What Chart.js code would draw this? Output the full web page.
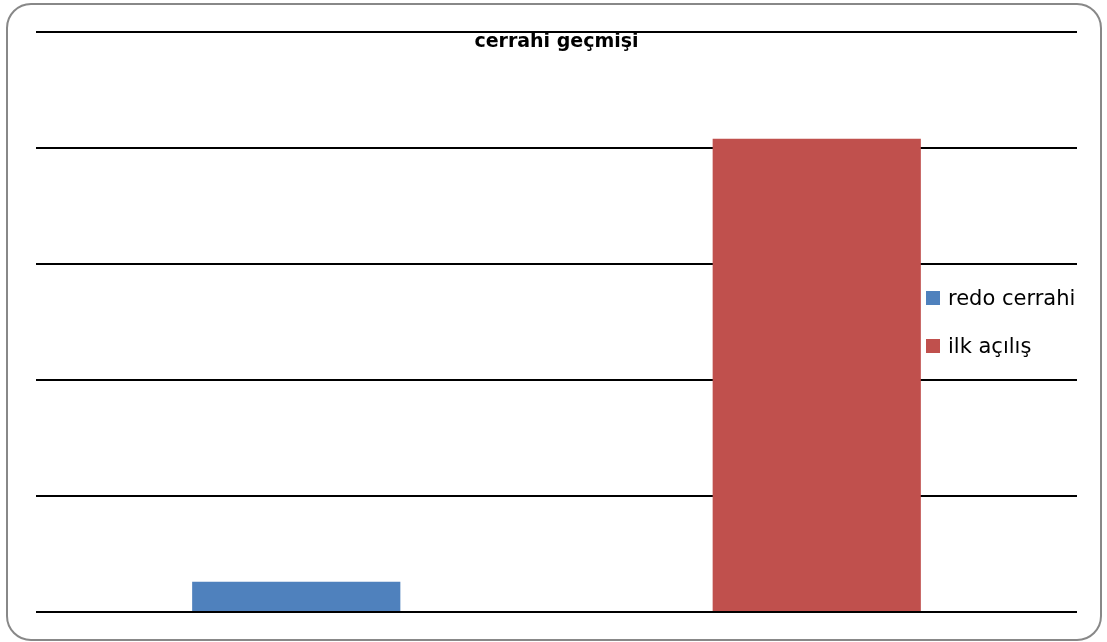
<!DOCTYPE html>
<html>
<head>
<meta charset="utf-8">
<script src="https://cdn.jsdelivr.net/npm/chart.js@4/dist/chart.umd.min.js"></script>
<style>
  body { margin: 0; background: #fff; }
  #wrap { position: relative; width: 1107px; height: 642px; overflow: hidden; }
  #frame { position: absolute; left: 6px; top: 3px; width: 1092px; height: 634px;
           border: 2px solid #888; border-radius: 25px; }
  #chart { position: absolute; left: 0; top: 0; }
  #title { position: absolute; left: 36px; width: 1041px; top: 30px; text-align: center;
           font: bold 19px "DejaVu Sans", sans-serif; line-height: 20px; color: #000; }
  .item { position: absolute; left: 926px; padding-left: 22px; white-space: nowrap;
          font: 21px "DejaVu Sans", sans-serif; line-height: 24px; color: #000; }
  .item span { position: absolute; left: 0; top: 5px; width: 14px; height: 14px; }
</style>
</head>
<body>
<div id="wrap">
  <div id="frame"></div>
  <canvas id="chart" width="1107" height="642"></canvas>
  <div id="title">cerrahi geçmişi</div>
  <div id="legend"></div>
</div>
<script>
var labels = ["redo cerrahi", "ilk açılış"];
var values = [13, 204];
var colors = ["#4F81BD", "#C0504D"];
var yTicks = [0, 50, 100, 150, 200, 250];

// legend like excel, one entry per category
var legend = document.getElementById("legend");
for (var i = 0; i < labels.length; i++) {
  var d = document.createElement("div");
  d.className = "item";
  d.style.top = (286 + i * 48) + "px";
  d.innerHTML = '<span style="background:' + colors[i] + '"></span>' + labels[i];
  legend.appendChild(d);
}

var ctx = document.getElementById("chart").getContext("2d");
var myChart = new Chart(ctx, {
  type: "bar",
  data: {
    labels: labels,
    datasets: [{
      data: values,
      backgroundColor: colors,
      categoryPercentage: 1,
      barPercentage: 0.4
    }]
  },
  options: {
    responsive: false,
    animation: false,
    layout: { padding: { left: 36, right: 30, top: 32, bottom: 30 } },
    plugins: {
      legend: { display: false },
      title: { display: false },
      tooltip: { enabled: false }
    },
    scales: {
      x: { display: false },
      y: {
        min: yTicks[0],
        max: yTicks[yTicks.length - 1],
        ticks: { display: false, stepSize: yTicks[1] - yTicks[0] },
        grid: { color: "#000", lineWidth: 2, drawTicks: false },
        border: { display: false }
      }
    }
  }
});
</script>
</body>
</html>
